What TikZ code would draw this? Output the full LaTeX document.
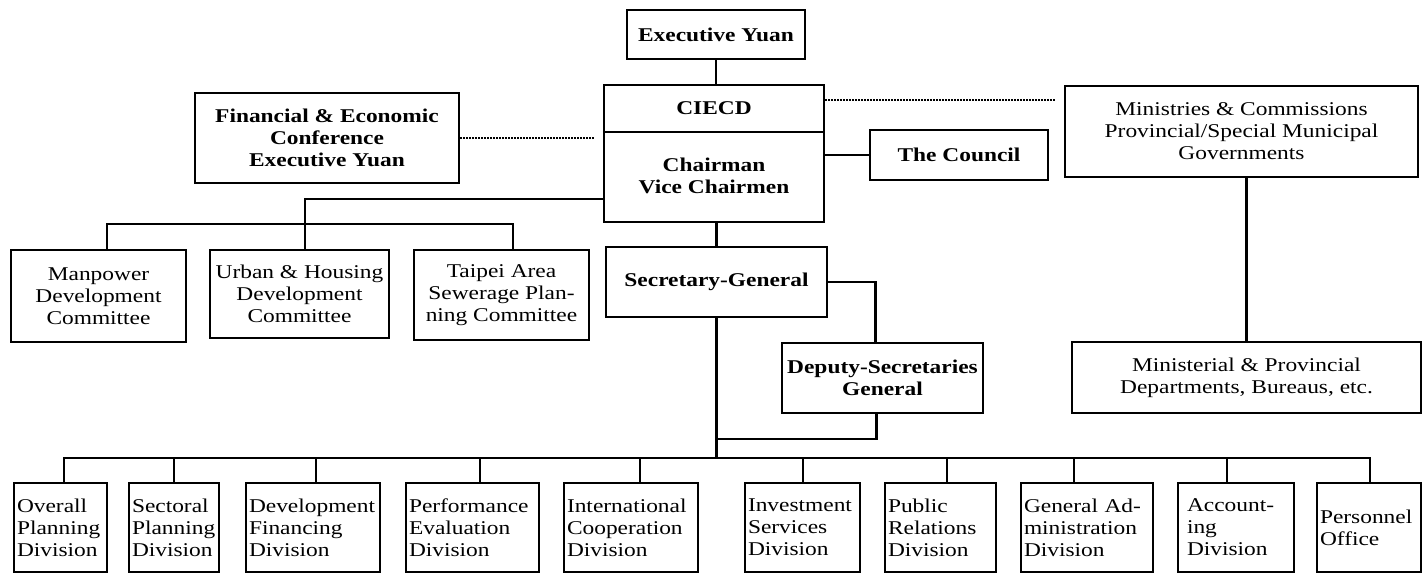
\documentclass[tikz,border=0pt]{standalone}
\usepackage{fontspec}
\setmainfont{Liberation Serif}[FakeStretch=1.2]
\newcommand\chartfont{\fontsize{19.5}{22}\selectfont}
\begin{document}
\begin{tikzpicture}[x=1pt,y=-1pt,
  box/.style={draw, line width=2.1pt, inner sep=2pt, align=center, font=\chartfont},
  bbox/.style={box, font=\chartfont\bfseries},
  lbl/.style={inner sep=0pt, align=center, font=\chartfont\bfseries},
  divbox/.style={draw, line width=2.1pt, inner xsep=3pt, inner ysep=0pt, align=left, minimum height=89pt, font=\chartfont},
  conn/.style={line width=2.1pt},
  dots/.style={line width=1.5pt, dash pattern=on 1.6pt off 1.4pt}]
\useasboundingbox (0,0) rectangle (1425,574);

% top level
\node[bbox, minimum width=178pt, minimum height=49pt] (ey) at (716,34.5) {Executive Yuan};
\node[box, minimum width=220pt, minimum height=137pt] (ciecd) at (714,153.5) {};
\node[lbl] (ciecdlbl) at (714,108) {CIECD};
\node[lbl] (chair) at (714,176) {Chairman\\Vice Chairmen};
\coordinate (divy) at (0,132);
\draw[line width=2.1pt] (ciecd.west |- divy) -- (ciecd.east |- divy);

\node[bbox, minimum width=264pt, minimum height=90pt] (fin) at (327,138) {Financial \& Economic\\Conference\\Executive Yuan};
\node[bbox, minimum width=178pt, minimum height=50pt] (council) at (959,155) {The Council};
\node[box, minimum width=353pt, minimum height=91pt] (ministries) at (1241.5,131.5) {Ministries \& Commissions\\Provincial/Special Municipal\\Governments};
\node[box, minimum width=349pt, minimum height=71pt] (ministerial) at (1246.5,377.5) {Ministerial \& Provincial\\Departments, Bureaus, etc.};

% committees
\node[box, minimum width=175pt, minimum height=92pt] (manpower) at (98.5,296) {Manpower\\Development\\Committee};
\node[box, minimum width=179pt, minimum height=88pt] (urban) at (299.5,294) {Urban \& Housing\\Development\\Committee};
\node[box, minimum width=175pt, minimum height=90pt] (taipei) at (501.5,295) {Taipei Area\\Sewerage Plan-\\ning Committee};

% secretariat
\node[bbox, minimum width=221pt, minimum height=70pt] (secgen) at (716.5,282) {Secretary-General};
\node[bbox, minimum width=201pt, minimum height=70pt] (deputy) at (882.5,378) {Deputy-Secretaries\\General};

% divisions
\node[divbox, text width=87pt] (overall) at (60.5,527.5) {Overall\\Planning\\Division};
\node[divbox, text width=84pt] (sectoral) at (174,527.5) {Sectoral\\Planning\\Division};
\node[divbox, text width=128pt] (devfin) at (313,527.5) {Development\\Financing\\Division};
\node[divbox, text width=127pt] (perf) at (472.5,527.5) {Performance\\Evaluation\\Division};
\node[divbox, text width=128pt] (intl) at (631,527.5) {International\\Cooperation\\Division};
\node[divbox, text width=109pt] (invest) at (802.5,527.5) {Investment\\Services\\Division};
\node[divbox, text width=105pt] (pr) at (940.5,527.5) {Public\\Relations\\Division};
\node[divbox, text width=126pt] (genadm) at (1087,527.5) {General Ad-\\ministration\\Division};
\node[divbox, inner xsep=9pt, text width=98pt] (acct) at (1236,527.5) {Account-\\ing\\Division};
\node[divbox, text width=98pt] (personnel) at (1369,527.5) {Personnel\\Office};

% connectors: top
\draw[conn] (ey.south) -- (ey.south |- ciecd.north);
\draw[dots] (fin.east) -- ([xshift=-9pt]ciecd.west |- fin.east);
\coordinate (mdot) at (1056,100);
\draw[dots] (ciecd.east |- mdot) -- (mdot);
\draw[conn] (ciecd.east |- council.west) -- (council.west);
\draw[conn] (ministerial.north |- ministries.south) -- (ministerial.north);

% committees
\coordinate (clink) at (305,199);
\coordinate (cb) at (0,224);
\draw[conn] (ciecd.west |- clink) -- (clink) -- (clink |- cb);
\draw[conn] ([xshift=8.5pt]manpower.north) -- ([xshift=8.5pt]manpower.north |- cb)
  -- ([xshift=11.5pt]taipei.north |- cb) -- ([xshift=11.5pt]taipei.north);
\draw[conn] ([xshift=5.5pt]urban.north) -- ([xshift=5.5pt]urban.north |- cb);

% secretariat
\draw[conn] (secgen.north) -- (secgen.north |- ciecd.south);
\draw[conn] (secgen.east) -- ([xshift=-7pt]deputy.north |- secgen.east) -- ([xshift=-7pt]deputy.north);
\coordinate (dl) at (0,439);
\coordinate (db) at (0,458);
\draw[conn] ([xshift=-6pt]deputy.south) -- ([xshift=-6pt]deputy.south |- dl) -- (secgen.south |- dl);
\draw[conn] (secgen.south) -- (secgen.south |- db);

% division bus
\draw[conn] ([xshift=3.5pt]overall.north) -- ([xshift=3.5pt]overall.north |- db)
  -- ([xshift=1pt]personnel.north |- db) -- ([xshift=1pt]personnel.north);
\foreach \n/\s in {sectoral/0, devfin/3, perf/7.5, intl/9, invest/0.5, pr/6.5, genadm/-13, acct/-9}
  \draw[conn] ([xshift=\s pt]\n.north) -- ([xshift=\s pt]\n.north |- db);
\end{tikzpicture}
\end{document}
